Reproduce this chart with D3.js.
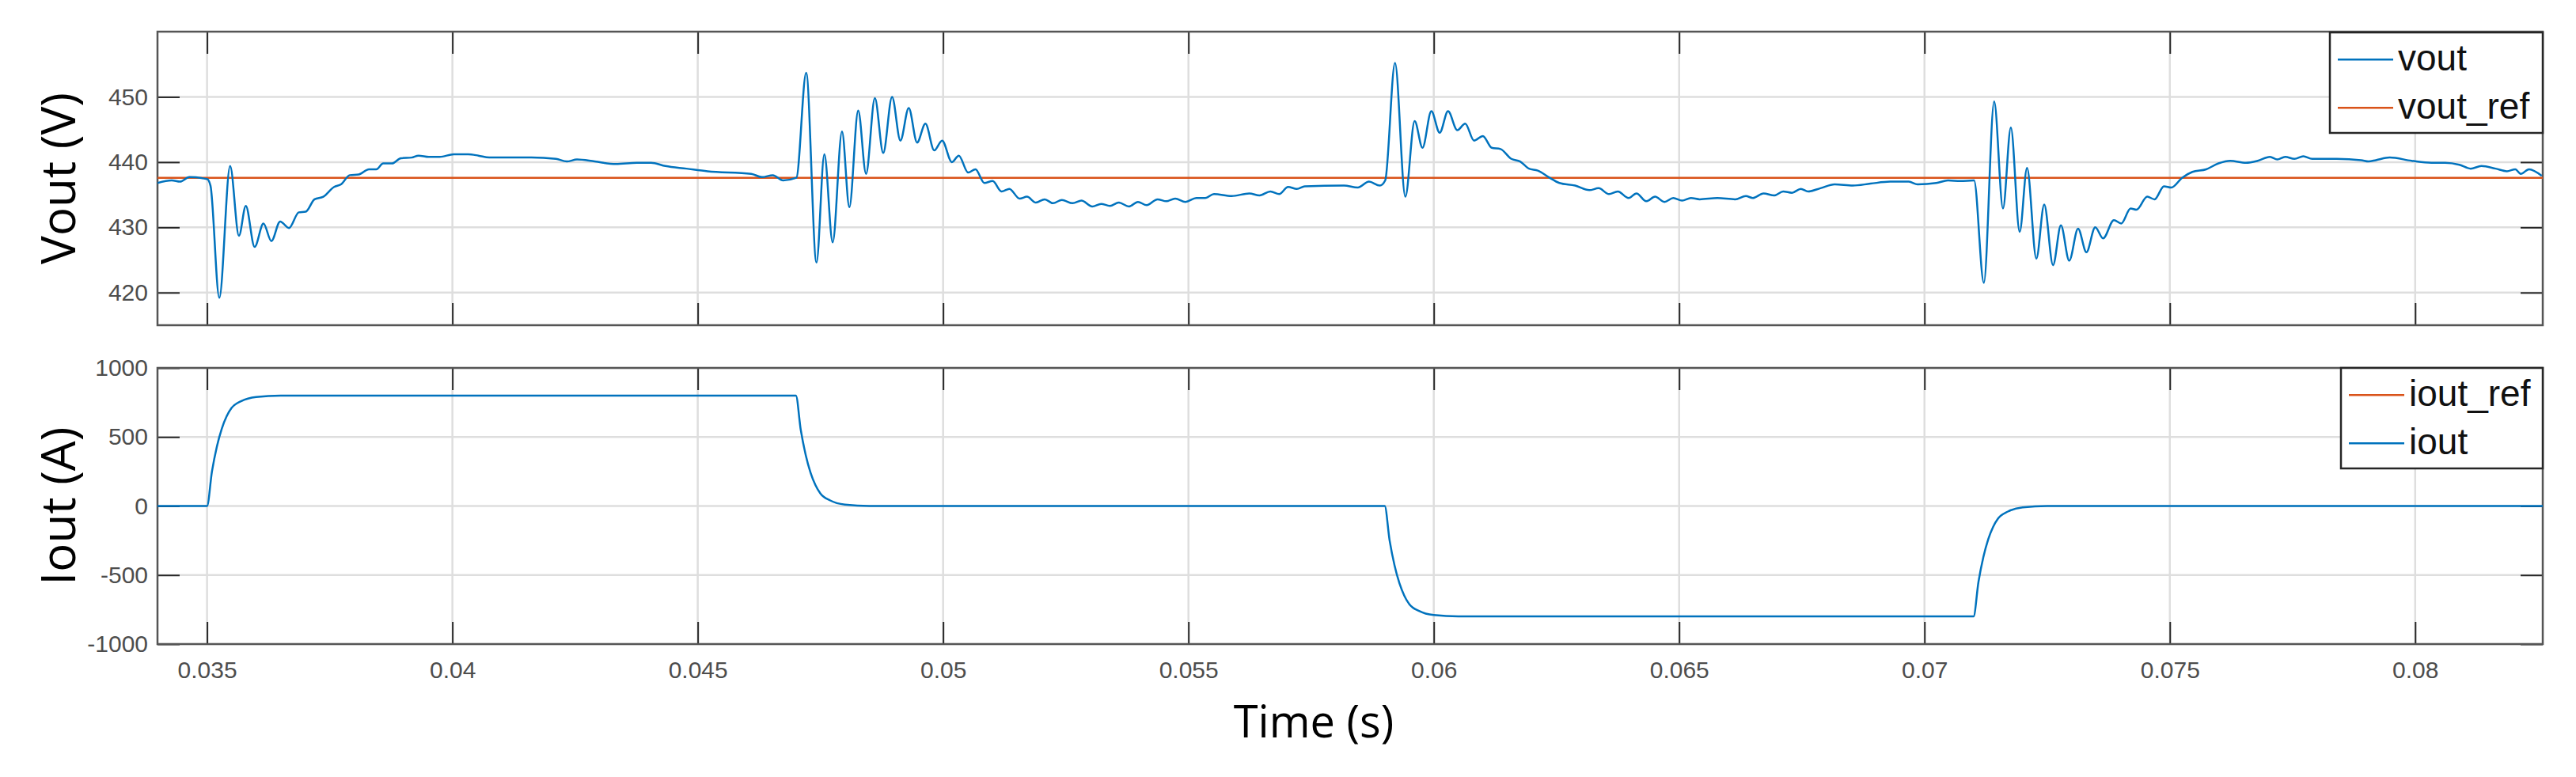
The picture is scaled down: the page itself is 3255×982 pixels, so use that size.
<!DOCTYPE html>
<html><head><meta charset="utf-8">
<script src="https://cdn.jsdelivr.net/npm/d3@7"></script>
<style>body{margin:0;background:#fff}</style></head>
<body><svg id="c" width="3255" height="982"></svg>
<script>
const timeTicks = [0.035,0.04,0.045,0.05,0.055,0.06,0.065,0.07,0.075,0.08];
const vTicks = [420,430,440,450];
const iTicks = [-1000,-500,0,500,1000];
const voutRef = 437.6;
const voutT = [0.03399,0.03428,0.03445,0.03464,0.035,0.03507,0.03525,0.03547,0.03565,0.03579,0.03597,0.03615,0.03631,0.03649,0.03667,0.03687,0.03701,0.03719,0.03737,0.03759,0.03773,0.03791,0.03809,0.0383,0.03845,0.03859,0.03877,0.03895,0.03917,0.03931,0.03952,0.03974,0.04003,0.04032,0.04053,0.04075,0.04118,0.04161,0.04211,0.04233,0.04254,0.0429,0.04333,0.04376,0.04405,0.04434,0.04477,0.0452,
0.04609,0.04631,0.04653,0.04674,0.04701,0.04721,0.04742,0.04758,0.04775,0.04794,0.04809,0.04827,0.04843,0.04861,0.04878,0.04896,0.04913,0.0493,0.04947,0.04964,0.04982,0.04998,0.05018,0.05032,0.05051,0.05066,0.05084,0.05101,0.05119,0.05135,0.05156,0.05171,0.05189,0.05207,0.05224,0.05242,0.05264,0.05282,0.05304,0.05322,0.0534,0.05358,0.05379,0.05397,0.05415,0.05437,0.05455,0.05473,0.05494,0.05516,0.05534,0.05552,0.05588,0.05624,0.05645,0.05667,0.05685,0.05703,0.05721,0.05737,
0.05817,0.05845,0.05868,0.0589,0.05901,0.05921,0.05942,0.05961,0.05977,0.05995,0.06012,0.06029,0.06048,0.06064,0.06082,0.061,0.06118,0.06136,0.06158,0.06176,0.06194,0.06212,0.06234,0.06256,0.06288,0.06317,0.06336,0.06357,0.06375,0.06397,0.06413,0.06433,0.06451,0.0647,0.06488,0.06506,0.06524,0.06542,0.06578,0.06614,0.06636,0.0665,0.06672,0.06694,0.06712,0.0673,0.06748,0.06763,0.06788,0.06817,0.06854,0.0689,0.0693,
0.06968,0.06986,0.07024,0.07048,0.07073,0.07101,0.07121,0.07142,0.0716,0.07176,0.07194,0.07209,0.07228,0.07244,0.07262,0.07278,0.07295,0.07313,0.0733,0.07348,0.07364,0.07386,0.07401,0.0742,0.07432,0.07454,0.07469,0.07488,0.07503,0.07525,0.07546,0.07574,0.07599,0.07623,0.07655,0.07679,0.07704,0.07719,0.07735,0.07754,0.07772,0.0779,0.0784,0.0789,0.07905,0.0792,
0.07948,0.07993,0.08033,0.08061,0.0809,0.08113,0.08135,0.08164,0.08187,0.08204,0.08215,0.08232,0.08258];
const voutV = [436.8,437.2,437.0,437.7,437.4,436.4,419.2,439.4,428.7,433.3,427.0,430.6,427.9,430.9,429.9,432.3,432.4,434.3,434.7,436.2,436.6,438.0,438.1,438.9,438.9,439.8,439.8,440.6,440.7,441.0,440.8,440.8,441.2,441.2,441.0,440.7,440.7,440.7,440.5,440.1,440.4,440.1,439.7,439.9,439.9,439.4,439.0,438.6,
438.2,437.7,438.0,437.2,437.6,453.7,424.6,441.2,427.7,444.7,433.1,447.9,438.2,449.8,441.4,450.0,443.3,448.3,443.0,445.9,441.8,443.3,440.0,441.0,438.4,438.9,436.8,437.1,435.5,435.9,434.4,434.7,433.8,434.3,433.7,434.2,433.7,434.1,433.2,433.6,433.3,433.8,433.2,433.9,433.4,434.3,434.0,434.4,433.9,434.5,434.5,435.1,434.8,435.2,434.9,435.5,435.1,436.2,435.9,436.3,
436.4,436.1,437.0,436.4,437.2,455.2,434.7,446.3,442.2,447.8,444.5,447.8,444.9,445.9,443.3,444.0,442.2,442.0,440.5,440.1,439.0,438.7,437.7,436.8,436.4,435.7,436.0,435.1,435.5,434.5,435.2,434.0,434.7,433.9,434.5,434.1,434.5,434.3,434.5,434.3,434.8,434.5,435.2,434.9,435.5,435.3,435.9,435.5,436.0,436.6,436.4,436.7,437.0,
437.0,436.6,436.8,437.2,437.1,437.2,421.5,449.3,432.9,445.3,429.3,439.1,425.2,433.5,424.2,430.3,424.9,429.8,426.2,430.0,428.3,431.1,430.6,432.9,432.7,434.7,434.3,436.3,436.1,437.6,438.5,438.9,439.8,440.2,439.9,440.2,440.8,440.4,440.8,440.5,440.9,440.5,440.5,440.3,440.1,440.3,
440.7,440.2,439.9,439.9,439.6,439.0,439.4,439.0,438.6,438.9,438.2,438.9,437.9];
const ioutT = [0.03399,0.035,0.0351,0.0352,0.0353,0.0354,0.0355,0.0357,0.036,0.0365,
0.047,0.0471,0.0472,0.0473,0.0474,0.0475,0.0477,0.048,0.0485,
0.059,0.0591,0.0592,0.0593,0.0594,0.0595,0.0597,0.060,0.0605,
0.071,0.0711,0.0712,0.0713,0.0714,0.0715,0.0717,0.072,0.0725,0.0826];
const ioutV = [0,0,250,430,560,650,710,760,790,800,
800,550,370,240,150,90,40,10,0,
0,-250,-430,-560,-650,-710,-760,-790,-800,
-800,-550,-370,-240,-150,-90,-40,-10,0,0];

const svg = d3.select('#c');
const L=199,R=3213;
const x = d3.scaleLinear().domain([0.03399,0.0826]).range([L,R]);
const BLUE='#0072BD', ORANGE='#D95319', AX='#262626', GRID='#dedede';
const tickFont='"Liberation Sans", Arial, sans-serif';

function panel(top,bot,dom,ticks,label,showX){
  const y=d3.scaleLinear().domain(dom).range([bot,top]);
  const g=svg.append('g');
  g.selectAll('.gx').data(timeTicks).enter().append('line')
    .attr('x1',d=>x(d)).attr('x2',d=>x(d)).attr('y1',top).attr('y2',bot)
    .attr('stroke',GRID).attr('stroke-width',2.5);
  g.selectAll('.gy').data(ticks).enter().append('line')
    .attr('x1',L).attr('x2',R).attr('y1',d=>y(d)).attr('y2',d=>y(d))
    .attr('stroke',GRID).attr('stroke-width',2.5);
  const ax=(gen,tr)=>{const a=g.append('g').attr('transform',tr).call(gen);
    a.select('.domain').remove(); a.selectAll('line').attr('stroke',AX).attr('stroke-width',2);
    a.selectAll('text').attr('font-family',tickFont).attr('font-size',30).attr('fill','#4d4d4d'); return a;};
  ax(d3.axisBottom(x).tickValues(timeTicks).tickSize(-28).tickFormat(d=>showX?String(+d.toFixed(3)):'').tickPadding(22),`translate(0,${bot})`);
  ax(d3.axisTop(x).tickValues(timeTicks).tickSize(-28).tickFormat(''),`translate(0,${top})`);
  ax(d3.axisLeft(y).tickValues(ticks).tickSize(-28).tickFormat(d=>String(d)).tickPadding(12),`translate(${L},0)`);
  ax(d3.axisRight(y).tickValues(ticks).tickSize(-28).tickFormat(''),`translate(${R},0)`);
  g.append('rect').attr('x',L).attr('y',top).attr('width',R-L).attr('height',bot-top)
    .attr('fill','none').attr('stroke','#555').attr('stroke-width',2.5);
  svg.append('text').attr('transform',`translate(95,${(top+bot)/2}) rotate(-90)`)
    .attr('text-anchor','middle').attr('font-family','"Open Sans", sans-serif').attr('font-size',60)
    .attr('fill','#000').text(label);
  return {y,g};
}
function legend(x0,y0,w,h,items){
  const g=svg.append('g');
  g.append('rect').attr('x',x0).attr('y',y0).attr('width',w).attr('height',h)
    .attr('fill','#fff').attr('stroke','#262626').attr('stroke-width',2.5);
  items.forEach((it,i)=>{
    const yy=y0+h*(0.27+0.48*i);
    g.append('line').attr('x1',x0+10).attr('x2',x0+80).attr('y1',yy).attr('y2',yy).attr('stroke',it.c).attr('stroke-width',2.5);
    g.append('text').attr('x',x0+86).attr('y',yy+14).attr('font-family',tickFont).attr('font-size',46).attr('fill','#111').text(it.t);
  });
}
const p1=panel(40,411,[415,460],vTicks,'Vout (V)',false);
svg.append('clipPath').attr('id','cl').append('rect').attr('x',L).attr('y',40).attr('width',R-L).attr('height',774);
p1.g.append('line').attr('x1',L).attr('x2',R).attr('y1',p1.y(voutRef)).attr('y2',p1.y(voutRef)).attr('stroke',ORANGE).attr('stroke-width',2.5);
const vData=voutT.map((t,i)=>[t,voutV[i]]);
p1.g.append('path').datum(vData).attr('clip-path','url(#cl)')
  .attr('d',d3.line().x(d=>x(d[0])).y(d=>p1.y(d[1])).curve(d3.curveMonotoneX))
  .attr('fill','none').attr('stroke',BLUE).attr('stroke-width',2.5);
legend(2944,41,269,127,[{t:'vout',c:BLUE},{t:'vout_ref',c:ORANGE}]);

const p2=panel(465,814,[-1000,1000],iTicks,'Iout (A)',true);
const iData=ioutT.map((t,i)=>[t,ioutV[i]]);
p2.g.append('path').datum(iData)
  .attr('d',d3.line().x(d=>x(d[0])).y(d=>p2.y(d[1])).curve(d3.curveMonotoneX))
  .attr('fill','none').attr('stroke',BLUE).attr('stroke-width',2.5);
legend(2958,465,255,127,[{t:'iout_ref',c:ORANGE},{t:'iout',c:BLUE}]);

svg.append('text').attr('x',1660).attr('y',932).attr('text-anchor','middle')
  .attr('font-family','"Open Sans", sans-serif').attr('font-size',56).attr('fill','#000').text('Time (s)');
</script></body></html>
